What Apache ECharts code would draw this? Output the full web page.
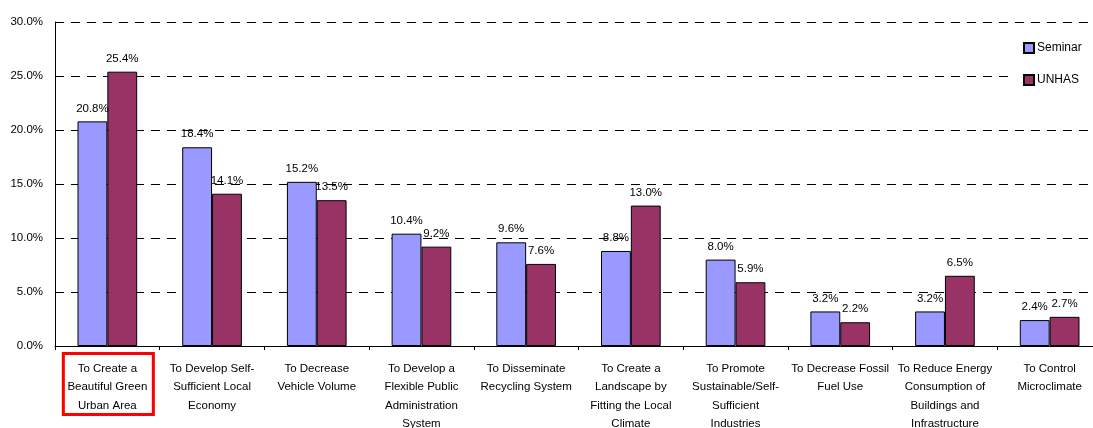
<!DOCTYPE html>
<html>
<head>
<meta charset="utf-8">
<script src="https://cdn.jsdelivr.net/npm/echarts@6/dist/echarts.min.js"></script>
<style>
  html, body { margin: 0; padding: 0; background: #fff; overflow: hidden; }
  #chart { width: 1093px; height: 428px; }
</style>
</head>
<body>
<div id="chart"></div>
<script>
// Objectives of the eco-city plan, share of responses per group (%)
const categories = [
  'To Create a\nBeautiful Green\nUrban Area',
  'To Develop Self-\nSufficient Local\nEconomy',
  'To Decrease\nVehicle Volume',
  'To Develop a\nFlexible Public\nAdministration\nSystem',
  'To Disseminate\nRecycling System',
  'To Create a\nLandscape by\nFitting the Local\nClimate',
  'To Promote\nSustainable/Self-\nSufficient\nIndustries',
  'To Decrease Fossil\nFuel Use',
  'To Reduce Energy\nConsumption of\nBuildings and\nInfrastructure',
  'To Control\nMicroclimate'
];
const seminar = [20.8, 18.4, 15.2, 10.4, 9.6, 8.8, 8.0, 3.2, 3.2, 2.4];
const unhas = [25.4, 14.1, 13.5, 9.2, 7.6, 13.0, 5.9, 2.2, 6.5, 2.7];
const highlighted = 0; // category whose label is framed in red

const FONT = "'Liberation Sans', Arial, sans-serif";

const labelStyle = {
  show: true,
  position: 'top',
  distance: 7,
  color: '#000',
  fontFamily: FONT,
  fontSize: 11.5,
  formatter: p => p.value.toFixed(1) + '%'
};

const chart = echarts.init(document.getElementById('chart'), null, { renderer: 'canvas' });
chart.setOption({
  animation: false,
  backgroundColor: '#fff',
  textStyle: { fontFamily: FONT },
  grid: {
    left: 55, top: 22, width: 1047, height: 324,
    containLabel: false,
    outerBoundsMode: 'none'
  },
  legend: {
    orient: 'vertical',
    left: 1015,
    top: 36,
    padding: [6, 8, 6, 8],
    backgroundColor: '#fff',
    itemWidth: 10,
    itemHeight: 10,
    itemGap: 20,
    icon: 'rect',
    textStyle: { color: '#000', fontSize: 12, fontFamily: FONT, padding: [0, 0, 0, -2] },
    data: ['Seminar', 'UNHAS']
  },
  xAxis: {
    type: 'category',
    data: categories,
    axisLine: { lineStyle: { color: '#000', width: 1 } },
    axisTick: { show: true, length: 4, lineStyle: { color: '#000' } },
    axisLabel: {
      interval: 0,
      margin: 14,
      color: '#000',
      fontSize: 11.5,
      lineHeight: 18.2,
      fontFamily: FONT,
      align: 'center',
      hideOverlap: false
    }
  },
  yAxis: {
    type: 'value',
    min: 0,
    max: 30,
    interval: 5,
    axisLine: { show: true, lineStyle: { color: '#000', width: 1 } },
    axisTick: { show: false },
    axisLabel: {
      color: '#000',
      fontSize: 11.5,
      fontFamily: FONT,
      margin: 12,
      formatter: v => v.toFixed(1) + '%'
    },
    splitLine: {
      show: true,
      lineStyle: { color: '#000', width: 1, type: [9, 7] }
    }
  },
  series: [
    {
      name: 'Seminar',
      type: 'bar',
      data: seminar,
      barGap: '0%',
      barCategoryGap: '43%',
      itemStyle: { color: '#9999ff', borderColor: '#000', borderWidth: 1 },
      label: labelStyle
    },
    {
      name: 'UNHAS',
      type: 'bar',
      data: unhas,
      barGap: '0%',
      barCategoryGap: '43%',
      itemStyle: { color: '#993366', borderColor: '#000', borderWidth: 1 },
      label: labelStyle
    }
  ]
});

// Red frame around the highlighted category label, placed from the axis scales
const cx = chart.convertToPixel({ xAxisIndex: 0 }, highlighted);
const axisY = chart.convertToPixel({ yAxisIndex: 0 }, 0);
const frameW = 90, frameH = 61;
chart.setOption({
  graphic: [{
    type: 'rect',
    silent: true,
    shape: { x: cx + 1 - frameW / 2, y: axisY + 7.5, width: frameW, height: frameH },
    style: { fill: 'none', stroke: '#ff0000', lineWidth: 3 }
  }]
});
</script>
</body>
</html>
